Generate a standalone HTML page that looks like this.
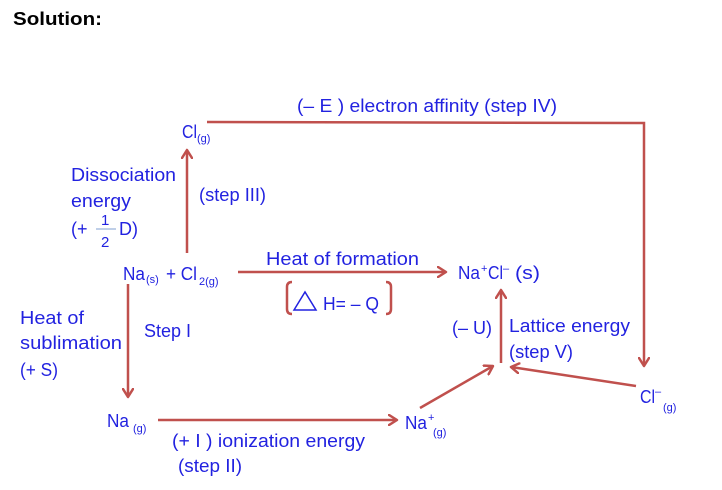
<!DOCTYPE html>
<html><head><meta charset="utf-8"><style>
html,body{margin:0;padding:0;background:#fff;}
svg{display:block;}
text{font-family:"Liberation Sans",sans-serif;fill:#2222e0;font-size:18px;}
.s{font-size:11px;}
</style></head><body>
<svg width="722" height="490" viewBox="0 0 722 490" xmlns="http://www.w3.org/2000/svg">
<defs>
<marker id="a" markerWidth="12" markerHeight="12" refX="9" refY="6" orient="auto" markerUnits="userSpaceOnUse">
<path d="M1,1 L9,6 L1,11" fill="none" stroke="#c0504d" stroke-width="2.5" stroke-linecap="round" stroke-linejoin="round"/>
</marker>
</defs>
<text x="13" y="25" style="font-weight:bold;fill:#000;font-size:18px" textLength="89" lengthAdjust="spacingAndGlyphs">Solution:</text>
<g stroke="#c0504d" stroke-width="2.5" fill="none">
<polyline points="207,122 644,123 644,366" marker-end="url(#a)"/>
<line x1="187" y1="253" x2="187" y2="150" marker-end="url(#a)"/>
<line x1="238" y1="272" x2="446" y2="272" marker-end="url(#a)"/>
<path d="M292,282 Q287,282 287,287 L287,309 Q287,314 292,314"/>
<path d="M386,282 Q391,282 391,287 L391,309 Q391,314 386,314"/>
<line x1="128" y1="284" x2="128" y2="397" marker-end="url(#a)"/>
<line x1="158" y1="420" x2="397" y2="420" marker-end="url(#a)"/>
<line x1="420" y1="408" x2="493" y2="366" marker-end="url(#a)"/>
<line x1="636" y1="386" x2="511" y2="367" marker-end="url(#a)"/>
<line x1="501" y1="363" x2="501" y2="290" marker-end="url(#a)"/>
</g>
<text x="297" y="112" textLength="260" lengthAdjust="spacingAndGlyphs">(– E ) electron affinity (step IV)</text>
<text x="182" y="138" textLength="15" lengthAdjust="spacingAndGlyphs">Cl</text><text x="197" y="142" class="s">(g)</text>
<text x="71" y="181" textLength="105" lengthAdjust="spacingAndGlyphs">Dissociation</text>
<text x="71" y="207" textLength="60" lengthAdjust="spacingAndGlyphs">energy</text>
<text x="71" y="235">(+</text>
<text x="101" y="225" style="font-size:15px">1</text>
<line x1="96" y1="229" x2="116" y2="229" stroke="#7f9fd0" stroke-width="1"/>
<text x="101" y="247" style="font-size:15px">2</text>
<text x="119" y="235">D)</text>
<text x="199" y="201" textLength="67" lengthAdjust="spacingAndGlyphs">(step III)</text>
<text x="123" y="280" textLength="22" lengthAdjust="spacingAndGlyphs">Na</text><text x="146" y="283" class="s">(s)</text>
<text x="166" y="280" textLength="31" lengthAdjust="spacingAndGlyphs">+ Cl</text><text x="199" y="285" class="s">2(g)</text>
<text x="266" y="265" textLength="153" lengthAdjust="spacingAndGlyphs">Heat of formation</text>
<path d="M294,310 L305,292 L316,310 Z" fill="none" stroke="#2222e0" stroke-width="1.5"/>
<text x="323" y="310" textLength="56" lengthAdjust="spacingAndGlyphs">H= – Q</text>
<text x="458" y="279" textLength="22" lengthAdjust="spacingAndGlyphs">Na</text><text x="481" y="272" class="s">+</text>
<text x="488" y="279" textLength="15" lengthAdjust="spacingAndGlyphs">Cl</text><text x="503" y="272" class="s">–</text>
<text x="515" y="279" textLength="25" lengthAdjust="spacingAndGlyphs">(s)</text>
<text x="20" y="324" textLength="64" lengthAdjust="spacingAndGlyphs">Heat of</text>
<text x="20" y="349" textLength="102" lengthAdjust="spacingAndGlyphs">sublimation</text>
<text x="20" y="376" textLength="38" lengthAdjust="spacingAndGlyphs">(+ S)</text>
<text x="144" y="337" textLength="47" lengthAdjust="spacingAndGlyphs">Step I</text>
<text x="452" y="334" textLength="40" lengthAdjust="spacingAndGlyphs">(– U)</text>
<text x="509" y="332" textLength="121" lengthAdjust="spacingAndGlyphs">Lattice energy</text>
<text x="509" y="358" textLength="64" lengthAdjust="spacingAndGlyphs">(step V)</text>
<text x="107" y="427" textLength="22" lengthAdjust="spacingAndGlyphs">Na</text><text x="133" y="432" class="s">(g)</text>
<text x="172" y="447" textLength="193" lengthAdjust="spacingAndGlyphs">(+ I ) ionization energy</text>
<text x="178" y="472" textLength="64" lengthAdjust="spacingAndGlyphs">(step II)</text>
<text x="405" y="429" textLength="22" lengthAdjust="spacingAndGlyphs">Na</text><text x="428" y="421" class="s">+</text><text x="433" y="436" class="s">(g)</text>
<text x="640" y="403" textLength="15" lengthAdjust="spacingAndGlyphs">Cl</text><text x="655" y="395" class="s">–</text><text x="663" y="411" class="s">(g)</text>
</svg>
</body></html>
